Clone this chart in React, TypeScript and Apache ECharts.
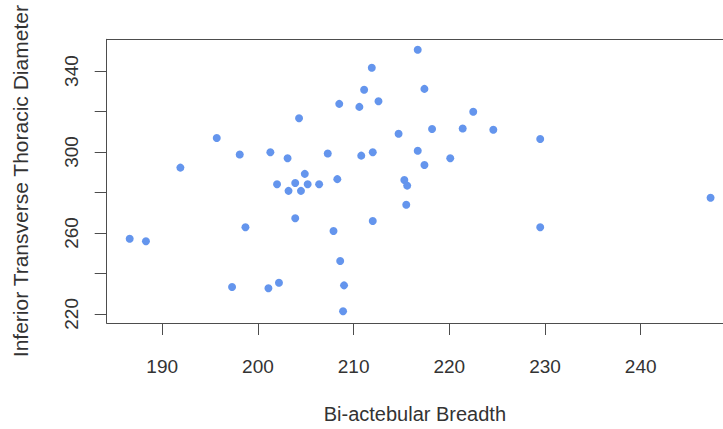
import React, { useEffect, useRef } from "react";
import * as echarts from "echarts";

// Bi-acetabular breadth (x) and inferior transverse thoracic diameter (y)
const breadth = [
  186.6, 188.3, 191.9, 195.7, 198.1, 198.7, 197.3, 201.1, 202.2, 201.3,
  203.1, 204.3, 202.0, 203.9, 204.9, 205.2, 203.2, 204.5, 203.9, 206.4,
  207.3, 208.3, 207.9, 208.6, 209.0, 208.9, 208.5, 210.6, 211.1, 211.9,
  212.6, 210.8, 212.0, 212.0, 214.7, 216.7, 217.4, 216.7, 217.4, 215.3,
  215.6, 215.5, 218.2, 220.1, 221.4, 222.5, 224.6, 229.5, 229.5, 247.3,
];
const diameter = [
  257.1, 255.9, 292.3, 306.9, 298.8, 262.8, 233.3, 232.7, 235.4, 299.9,
  296.9, 316.7, 284.1, 284.7, 289.2, 284.1, 280.8, 280.8, 267.3, 284.1,
  299.3, 286.6, 261.0, 246.1, 234.1, 221.3, 323.8, 322.3, 330.8, 341.6,
  325.1, 298.2, 299.9, 265.9, 309.0, 350.5, 331.2, 300.6, 293.6, 286.2,
  283.4, 273.9, 311.4, 296.9, 311.6, 319.9, 311.0, 306.4, 262.8, 277.4,
];

const xTicks = [190, 200, 210, 220, 230, 240];
const yTicks = [220, 240, 260, 280, 300, 320, 340];
const yLabels = [220, 260, 300, 340];

const FONT = "Liberation Sans, Arial, sans-serif";
const INK = "#333333";
const FRAME = "#4d4d4d";

// The plotting frame runs past the right edge of the canvas, so it is built
// from axis lines (left, bottom, top) instead of the grid border.
const X_MIN = 184.2;
const X_MAX = 248.6;
const Y_MIN = 215.5;
const Y_MAX = 355.7;

export default function App() {
  const ref = useRef<HTMLDivElement>(null);

  useEffect(() => {
    if (!ref.current) return;
    const chart = echarts.init(ref.current, null, { renderer: "svg" });
    const points = breadth.map((b, i) => [b, diameter[i]]);
    const frameLine = { show: true, lineStyle: { color: FRAME, width: 1 } };

    chart.setOption({
      animation: false,
      backgroundColor: "#ffffff",
      grid: {
        left: 106.7,
        top: 39.3,
        right: 0,
        bottom: 101.3,
        show: false,
      },
      xAxis: [
        {
          type: "value",
          position: "bottom",
          min: X_MIN,
          max: X_MAX,
          name: "Bi-actebular Breadth",
          nameLocation: "middle",
          nameGap: 81,
          nameTextStyle: { fontFamily: FONT, fontSize: 20, color: INK },
          axisLine: frameLine,
          splitLine: { show: false },
          axisTick: {
            show: true,
            inside: false,
            length: 12,
            customValues: xTicks,
            lineStyle: { color: FRAME, width: 1 },
          },
          axisLabel: {
            customValues: xTicks,
            margin: 34,
            fontFamily: FONT,
            fontSize: 19,
            color: INK,
          },
        },
        {
          type: "value",
          position: "top",
          min: X_MIN,
          max: X_MAX,
          axisLine: frameLine,
          axisTick: { show: false },
          axisLabel: { show: false },
          splitLine: { show: false },
        },
      ],
      yAxis: {
        type: "value",
        min: Y_MIN,
        max: Y_MAX,
        name: "Inferior Transverse Thoracic Diameter",
        nameLocation: "middle",
        nameGap: 76,
        nameRotate: 90,
        nameTextStyle: { fontFamily: FONT, fontSize: 21, color: INK },
        axisLine: frameLine,
        splitLine: { show: false },
        axisTick: {
          show: true,
          inside: false,
          length: 12,
          customValues: yTicks,
          lineStyle: { color: FRAME, width: 1 },
        },
        axisLabel: {
          customValues: yLabels,
          rotate: 90,
          margin: 26,
          fontFamily: FONT,
          fontSize: 19,
          color: INK,
        },
      },
      series: [
        {
          type: "scatter",
          xAxisIndex: 0,
          yAxisIndex: 0,
          data: points,
          symbol: "circle",
          symbolSize: 8,
          itemStyle: { color: "#6495ED", opacity: 1 },
          clip: false,
        },
      ],
    });

    return () => chart.dispose();
  }, []);

  return (
    <div
      ref={ref}
      style={{
        position: "fixed",
        left: 0,
        top: 0,
        width: 723,
        height: 429,
        background: "#ffffff",
      }}
    />
  );
}
